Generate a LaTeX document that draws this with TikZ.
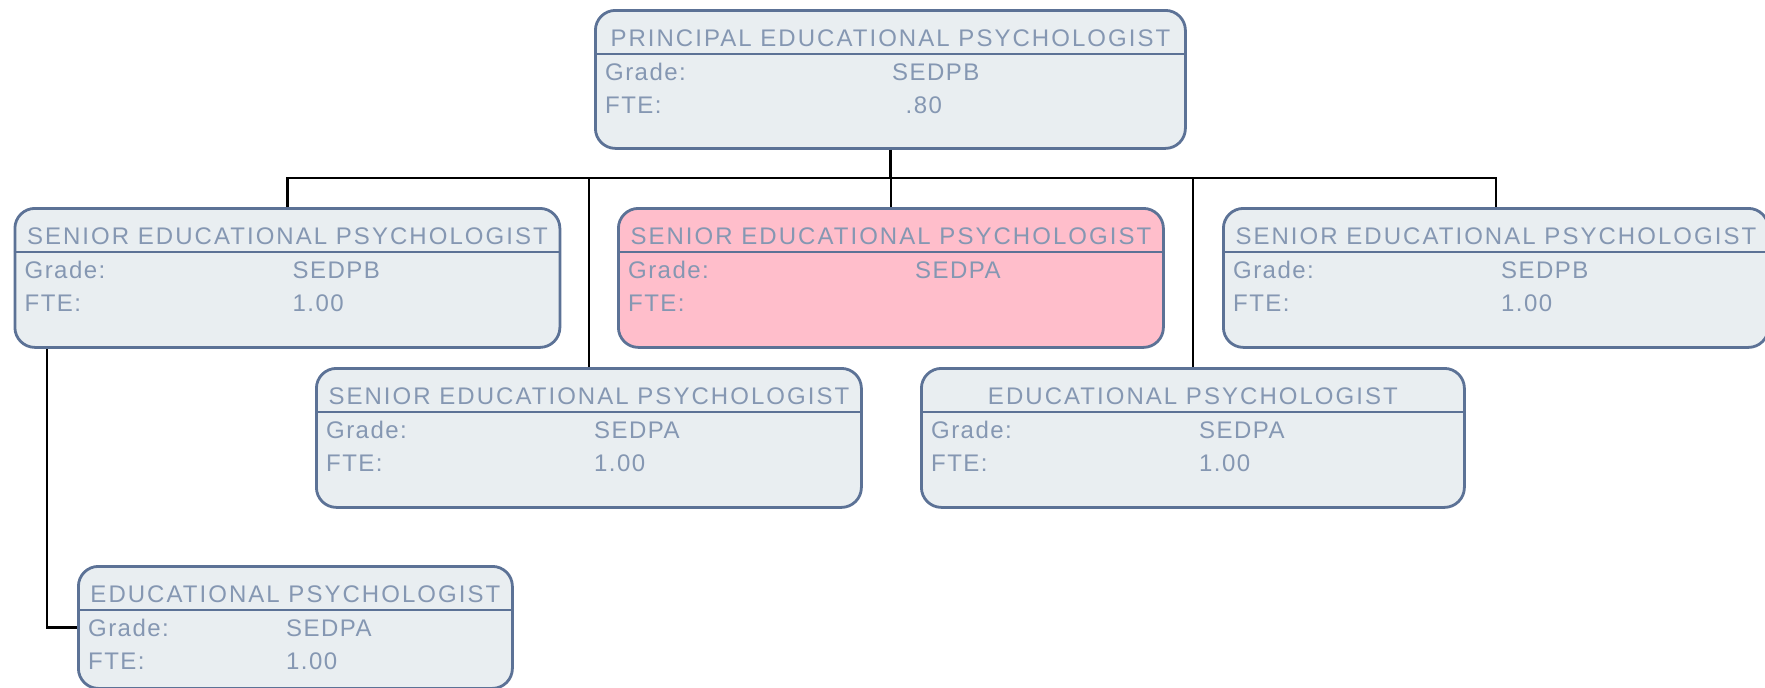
\documentclass[tikz,border=0pt]{standalone}
\usepackage{fontspec}
\setmainfont{Liberation Sans}[LetterSpace=6]
\newfontfamily\titlefont{Liberation Sans}[LetterSpace=8.5]
\definecolor{txtc}{RGB}{133,151,178}
\definecolor{bordc}{RGB}{92,114,150}
\definecolor{boxfill}{RGB}{233,238,241}
\definecolor{pinkfill}{RGB}{255,190,203}
\tikzset{
  orgbox/.style={draw=bordc, line width=2.8pt, rounded corners=20pt, anchor=north west, inner sep=0pt},
  hdrline/.style={draw=bordc, line width=2.8pt},
  txt/.style={text=txtc, font=\fontsize{24}{28}\selectfont, inner sep=0pt},
  ttl/.style={text=txtc, font=\titlefont\fontsize{24}{28}\selectfont, inner sep=0pt},
  conn/.style={draw=black, line width=2.5pt, line join=miter}
}
\def\valoff{279}
\newcommand\orgunit[9]{%
  \node[orgbox, fill=#6, minimum width=#4pt, minimum height=#5pt] (#1) at (#2,#3) {};
  \draw[hdrline] ([yshift=-45pt]#1.north west) -- ([yshift=-45pt]#1.north east);
  \node[ttl, anchor=base] (#1-t) at ([yshift=-37pt]#1.north) {#7};
  \node[txt, anchor=base west] (#1-g) at ([xshift=11pt,yshift=-71pt]#1.north west) {Grade:};
  \node[txt, anchor=base west] (#1-gv) at ([xshift=\valoff pt,yshift=-71pt]#1.north west) {#8};
  \node[txt, anchor=base west] (#1-f) at ([xshift=11pt,yshift=-104pt]#1.north west) {FTE:};
  \node[txt, anchor=base west] (#1-fv) at ([xshift=\valoff pt,yshift=-104pt]#1.north west) {#9};
}
\begin{document}
\begin{tikzpicture}[x=1pt,y=-1pt]
\useasboundingbox (0,0) rectangle (1765,688);
\coordinate (busy) at (0,178);
\def\valoff{298}
\orgunit{P}{594}{9}{590}{138}{boxfill}{PRINCIPAL EDUCATIONAL PSYCHOLOGIST}{SEDPB}{}
\node[txt, anchor=base west] (P-fv2) at ([xshift=311.5pt,yshift=-104pt]P.north west) {.80};
\orgunit{B}{617}{207}{545}{139}{pinkfill}{SENIOR EDUCATIONAL PSYCHOLOGIST}{SEDPA}{}
\def\valoff{279}
\orgunit{A}{13.5}{207}{545}{139}{boxfill}{SENIOR EDUCATIONAL PSYCHOLOGIST}{SEDPB}{1.00}
\orgunit{C}{1222}{207}{545}{139}{boxfill}{SENIOR EDUCATIONAL PSYCHOLOGIST}{SEDPB}{1.00}
\orgunit{D}{315}{367}{545}{139}{boxfill}{SENIOR EDUCATIONAL PSYCHOLOGIST}{SEDPA}{1.00}
\orgunit{E}{920}{367}{543}{139}{boxfill}{EDUCATIONAL PSYCHOLOGIST}{SEDPA}{1.00}
\def\valoff{209}
\orgunit{F}{77}{565}{434}{122}{boxfill}{EDUCATIONAL PSYCHOLOGIST}{SEDPA}{1.00}
\coordinate (Adrop) at ([xshift=33.5pt]A.south west);
\draw[conn] (P.south) -- (P.south |- busy);
\draw[conn] (A.north) |- (C.north |- busy) -- (C.north);
\draw[conn] (B.north) -- (B.north |- busy);
\draw[conn] (D.north) -- (D.north |- busy);
\draw[conn] (E.north) -- (E.north |- busy);
\draw[conn] (Adrop) |- (F.west);
\end{tikzpicture}
\end{document}
